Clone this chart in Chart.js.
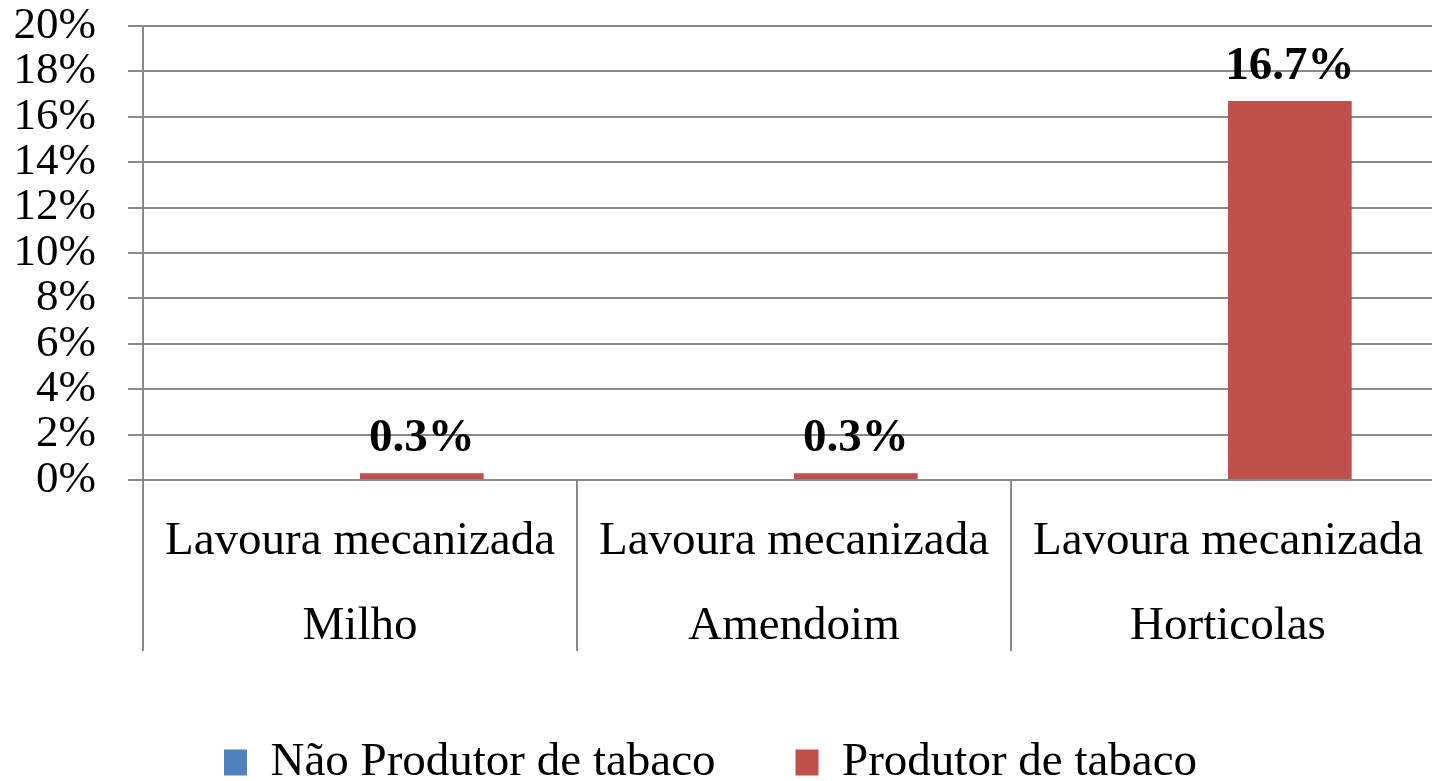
<!DOCTYPE html>
<html>
<head>
<meta charset="utf-8">
<script src="https://cdn.jsdelivr.net/npm/chart.js@4.4.1/dist/chart.umd.min.js"></script>
<style>
  html, body { margin: 0; padding: 0; background: #fff; overflow: hidden; }
  #wrap { width: 1445px; height: 781px; position: relative; }
</style>
</head>
<body>
<div id="wrap"><canvas id="c"></canvas></div>
<script>
const categories = [
  ['Lavoura mecanizada', 'Milho'],
  ['Lavoura mecanizada', 'Amendoim'],
  ['Lavoura mecanizada', 'Horticolas']
];
const seriesNames = ['Não Produtor de tabaco', 'Produtor de tabaco'];
const naoProdutor = [0, 0, 0];
const produtor = [0.3, 0.3, 16.7];
const yTicks = [0, 2, 4, 6, 8, 10, 12, 14, 16, 18, 20];

const FONT = "'Liberation Serif', 'Times New Roman', serif";
const GRID = '#898989';

const labelPlugin = {
  id: 'barLabels',
  afterDatasetsDraw(chart) {
    const ctx = chart.ctx;
    const meta = chart.getDatasetMeta(1);
    ctx.save();
    ctx.font = "bold 47px " + FONT;
    ctx.fillStyle = '#000';
    ctx.textAlign = 'center';
    ctx.textBaseline = 'alphabetic';
    meta.data.forEach((bar, i) => {
      const v = chart.data.datasets[1].data[i];
      ctx.fillText(v.toFixed(1) + '%', bar.x, bar.y - 22);
    });
    ctx.restore();
  }
};

const legendShift = {
  id: 'legendShift',
  afterLayout(chart) {
    if (chart.legend) { chart.legend.left -= 12; chart.legend.right -= 12; }
  }
};

new Chart(document.getElementById('c'), {
  type: 'bar',
  data: {
    labels: categories,
    datasets: [
      { label: seriesNames[0], data: naoProdutor, backgroundColor: '#4F81BD' },
      { label: seriesNames[1], data: produtor, backgroundColor: '#C0504D' }
    ]
  },
  options: {
    responsive: true,
    maintainAspectRatio: false,
    animation: false,
    devicePixelRatio: 1,
    categoryPercentage: 0.57,
    barPercentage: 1.0,
    layout: { padding: { top: 26, left: 0, right: 0, bottom: -15 } },
    scales: {
      x: {
        grid: { offset: true, drawOnChartArea: false, drawTicks: true, tickLength: 171, color: GRID, lineWidth: 2 },
        border: { display: true, color: GRID, width: 2 },
        ticks: {
          font: { family: FONT, size: 47, lineHeight: 1.81 },
          color: '#000',
          padding: -152,
          maxRotation: 0,
          autoSkip: false
        },
        afterFit(scale) { scale.height = 179; }
      },
      y: {
        min: 0, max: 20,
        afterBuildTicks(scale) { scale.ticks = yTicks.map(v => ({ value: v })); },
        grid: { color: GRID, lineWidth: 2, tickLength: 15 },
        border: { display: true, color: GRID, width: 2 },
        ticks: {
          font: { family: FONT, size: 45 },
          color: '#000',
          padding: 32,
          autoSkip: false,
          callback: v => v + '%'
        },
        afterFit(scale) { scale.width = 143; scale.paddingTop = 0; }
      }
    },
    plugins: {
      legend: {
        position: 'bottom',
        labels: {
          font: { family: FONT, size: 47 },
          color: '#000',
          boxWidth: 23,
          boxHeight: 26,
          padding: 80
        }
      },
      tooltip: { enabled: false }
    }
  },
  plugins: [labelPlugin, legendShift]
});
</script>
</body>
</html>
